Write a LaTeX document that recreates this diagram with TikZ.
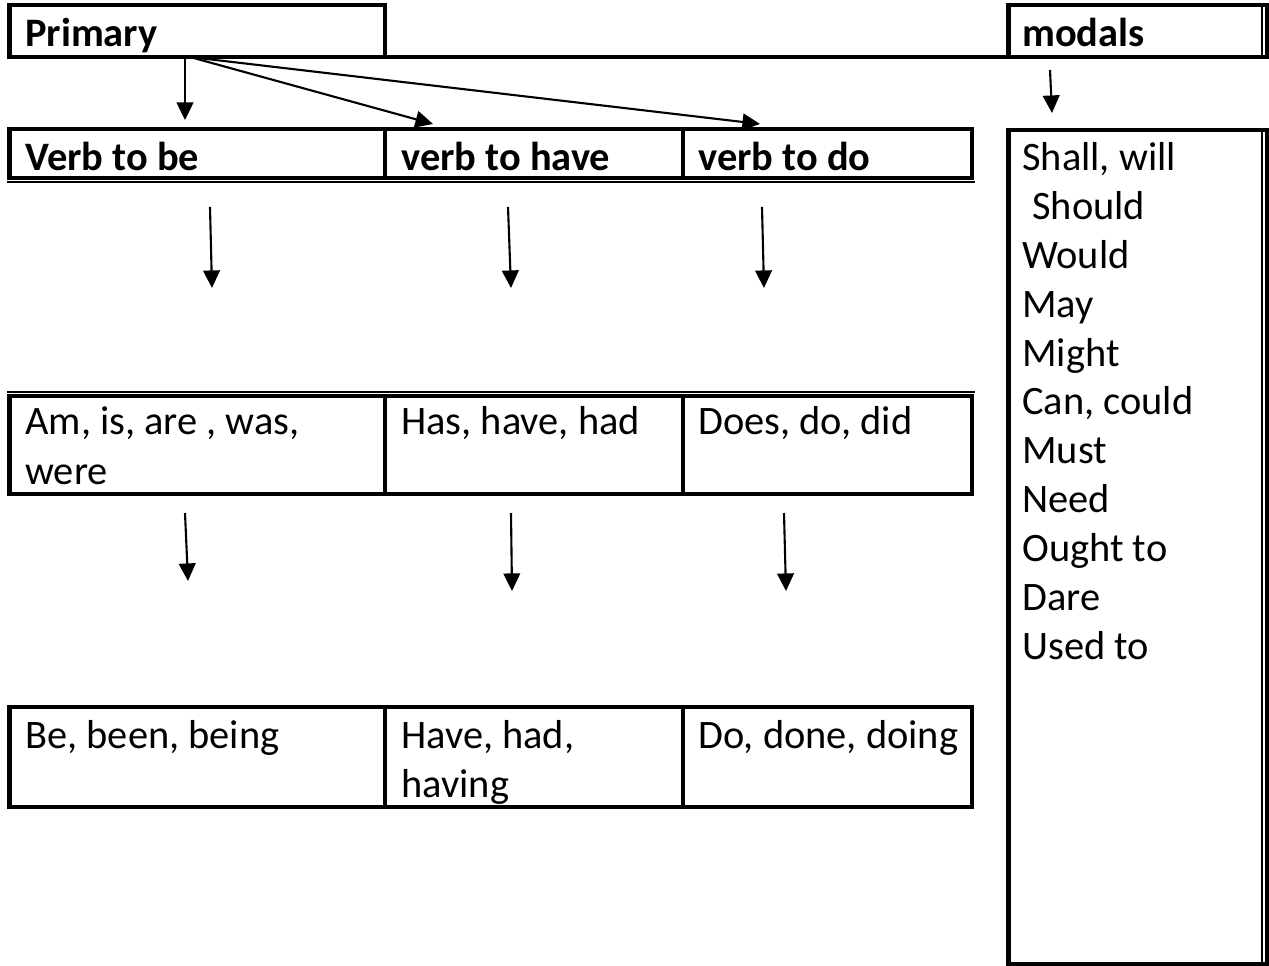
\documentclass[tikz,border=0pt]{standalone}
\usepackage{fontspec}
\setmainfont{Carlito}
\usetikzlibrary{arrows.meta}
\begin{document}
\begin{tikzpicture}[x=0.02cm,y=-0.02cm,
 thickrule/.style={line width=2.3pt, line cap=rect},
 thinrule/.style={line width=0.7pt},
 arr/.style={line width=1.2pt, -{Triangle[length=10pt,width=9.5pt]}},
 txt/.style={anchor=base west, inner sep=0pt, font=\fontsize{23}{27.7}\selectfont},
 btxt/.style={anchor=base west, inner sep=0pt, font=\fontsize{23}{27.7}\selectfont\bfseries}]
\useasboundingbox (0,0) rectangle (1269,966);
% row 1
\draw[thickrule] (9.5,5) rectangle (385,57);
\draw[thickrule] (385,57) -- (1008.5,57);
\draw[thickrule] (1008.5,5) rectangle (1267,57);
\draw[thinrule] (1262,5) -- (1262,57);
% modals list box
\draw[thickrule] (1008.5,130) rectangle (1267,964);
\draw[thinrule] (1262,130) -- (1262,964);
% row 2
\draw[thickrule] (9.5,129) rectangle (972,178);
\draw[thickrule] (385,129) -- (385,178) (683,129) -- (683,178);
\draw[thinrule] (7,182) -- (975,182);
% row 3
\draw[thinrule] (7,392) -- (975,392);
\draw[thickrule] (9.5,396) rectangle (972,494);
\draw[thickrule] (385,396) -- (385,494) (683,396) -- (683,494);
% row 4
\draw[thickrule] (9.5,707) rectangle (972,807);
\draw[thickrule] (385,707) -- (385,807) (683,707) -- (683,807);

% texts
\node[btxt] (primary) at (25,47) {Primary};
\node[btxt] (modals) at (1022,47) {modals};
\node[btxt] (vbe) at (25,171) {Verb to be};
\node[btxt] (vhave) at (401,171) {verb to have};
\node[btxt] (vdo) at (698,171) {verb to do};
\node[txt] (am1) at (25,435) {Am, is, are , was,};
\node[txt] (am2) at (25,484) {were};
\node[txt] (has) at (401,435) {Has, have, had};
\node[txt] (does) at (698,435) {Does, do, did};
\node[txt] (be) at (25,748) {Be, been, being};
\node[txt] (hv1) at (401,748) {Have, had,};
\node[txt] (hv2) at (401,797) {having};
\node[txt] (do) at (698,748) {Do, done, doing};
\node[txt] (m1) at (1022,171) {Shall, will};
\node[txt] (m2) at (1032,219.8) {Should};
\node[txt] (m3) at (1022,268.6) {Would};
\node[txt] (m4) at (1022,317.4) {May};
\node[txt] (m5) at (1022,366.2) {Might};
\node[txt] (m6) at (1022,415) {Can, could};
\node[txt] (m7) at (1022,463.8) {Must};
\node[txt] (m8) at (1022,512.6) {Need};
\node[txt] (m9) at (1022,561.4) {Ought to};
\node[txt] (m10) at (1022,610.2) {Dare};
\node[txt] (m11) at (1022,659) {Used to};

% arrow end points
\coordinate (p0) at (185,58);
\coordinate (p1) at (190,57);
\coordinate (t1) at (185,120);
\coordinate (t2) at (433,124);
\coordinate (t3) at (760,124);
\coordinate (ms) at (1050,70);
\coordinate (mt) at (1052,113);
\coordinate (a1s) at (210,207); \coordinate (a1t) at (212,288);
\coordinate (a2s) at (508,207); \coordinate (a2t) at (511,288);
\coordinate (a3s) at (762,207); \coordinate (a3t) at (764,288);
\coordinate (b1s) at (185,513); \coordinate (b1t) at (188,581);
\coordinate (b2s) at (511,513); \coordinate (b2t) at (512,591);
\coordinate (b3s) at (784,513); \coordinate (b3t) at (786,591);

\draw[arr] (p0) -- (t1);
\draw[arr] (p1) -- (t2);
\draw[arr] (p1) -- (t3);
\draw[arr] (ms) -- (mt);
\draw[arr] (a1s) -- (a1t);
\draw[arr] (a2s) -- (a2t);
\draw[arr] (a3s) -- (a3t);
\draw[arr] (b1s) -- (b1t);
\draw[arr] (b2s) -- (b2t);
\draw[arr] (b3s) -- (b3t);
\end{tikzpicture}
\end{document}
